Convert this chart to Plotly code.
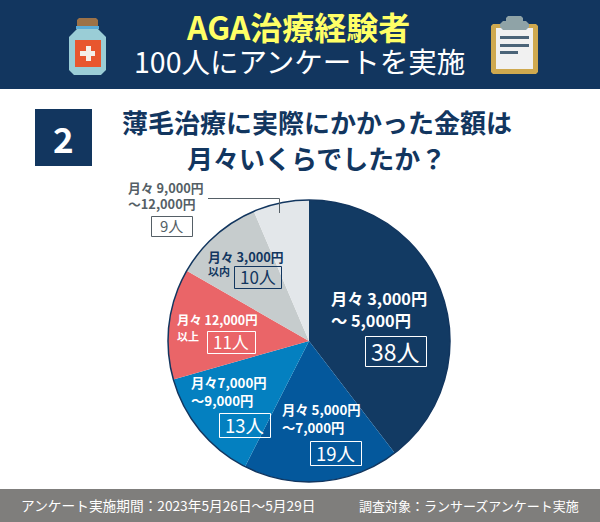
import plotly.graph_objects as go

W, H = 600, 522
categories = ["月々3,000円～5,000円", "月々5,000円～7,000円", "月々7,000円～9,000円",
              "月々12,000円以上", "月々3,000円以内", "月々9,000円～12,000円"]
counts = [38, 19, 13, 11, 10, 9]
# The drawn wedges in the picture are not exactly proportional to the printed counts;
# these are the wedge shares (%).
drawn_shares = [39.6, 17.9, 13.1, 12.7, 10.3, 6.4]
colors = ["#123a63", "#04589c", "#0480c0", "#ea6568", "#c6cccd", "#e3e7ea"]

title_1 = "AGA治療経験者"
title_2 = "100人にアンケートを実施"
question = ["薄毛治療に実際にかかった金額は", "月々いくらでしたか？"]
footer_left = "アンケート実施期間：2023年5月26日～5月29日"
footer_right = "調査対象：ランサーズアンケート実施"

NAVY = "#12365f"
GREY = "#555f66"
CLEAR = "rgba(0,0,0,0)"
FONT = "Noto Sans CJK JP"
cx, cy, r = 309, 341, 141


def px(x):
    return x / W


def py(y):
    return 1 - y / H


def rect(x0, y0, x1, y1, fill, line=None, lw=0, layer="above"):
    return dict(type="rect", xref="paper", yref="paper", x0=px(x0), x1=px(x1), y0=py(y0), y1=py(y1),
                fillcolor=fill, line=dict(color=line or fill, width=lw), layer=layer)


def frame(b, color):
    return rect(b[0] + 0.5, b[1] + 0.5, b[2] + 0.5, b[3] + 0.5, CLEAR, color, 1)


def seg(x0, y0, x1, y1, color, lw=1):
    return dict(type="line", xref="paper", yref="paper", x0=px(x0), x1=px(x1), y0=py(y0), y1=py(y1),
                line=dict(color=color, width=lw), layer="above")


def poly(points, fill):
    path = "M " + " L ".join(f"{px(a):.5f},{py(b):.5f}" for a, b in points) + " Z"
    return dict(type="path", xref="paper", yref="paper", path=path, fillcolor=fill,
                line=dict(width=0), layer="above")


def text(x, y, s, size, color, bold=False, anchor="left"):
    return dict(xref="paper", yref="paper", x=px(x), y=py(y), text=f"<b>{s}</b>" if bold else s,
                showarrow=False, xanchor=anchor, yanchor="middle", align=anchor,
                font=dict(family=FONT, size=size, color=color), borderpad=0)


def box_text(b, s, size, color):
    return text((b[0] + b[2]) / 2, (b[1] + b[3]) / 2 - 0.5, s, size, color, anchor="center")


fig = go.Figure(go.Pie(
    values=drawn_shares, labels=categories, customdata=counts, sort=False,
    direction="clockwise", rotation=0,
    marker=dict(colors=colors, line=dict(width=0)), textinfo="none",
    hovertemplate="%{label}: %{customdata}人<extra></extra>",
    domain=dict(x=[px(cx - r), px(cx + r)], y=[py(cy + r), py(cy - r)]), showlegend=False,
))

box_38 = (365, 336, 426, 366)
box_19 = (310, 441, 361, 465)
box_13 = (219, 413, 270, 437)
box_11 = (207, 331, 255, 353)
box_10 = (234, 266, 281, 288)
box_9 = (151, 216, 192, 236)

shapes = [
    rect(0, 0, 600, 89, NAVY, layer="below"),
    rect(0, 489, 600, 522, "#7f7e7c", layer="below"),
    rect(35, 109, 92, 166, NAVY, layer="below"),
    dict(type="circle", xref="paper", yref="paper", x0=px(cx - r), x1=px(cx + r),
         y0=py(cy + r), y1=py(cy - r), fillcolor=CLEAR, line=dict(color=NAVY, width=1.5), layer="above"),
    # bottle icon
    poly([(79, 18), (96, 18), (98, 20), (98, 28), (77, 28), (77, 20)], "#9c7248"),
    poly([(77, 29), (98, 29), (102, 33), (106, 37), (106, 70), (101, 75), (74, 75), (69, 70), (69, 37), (73, 33)], "#9acdd6"),
    rect(76, 26, 99, 29, "#5aacd8"),
    rect(75, 40, 101, 67, "#e8562e"),
    rect(80, 51, 95, 56, "#f4efe9"),
    rect(86, 46, 91, 61, "#f4efe9"),
    # clipboard icon
    poly([(493, 24), (536, 24), (538, 26), (538, 72), (536, 74), (493, 74), (491, 72), (491, 26)], "#cfa94f"),
    rect(496, 28, 533, 69, "#f1f1f1"),
    poly([(503, 21), (526, 21), (529, 24), (529, 27), (526, 30), (503, 30), (500, 27), (500, 24)], "#8fa3a7"),
    poly([(508, 16), (521, 16), (523, 18), (523, 22), (506, 22), (506, 18)], "#8fa3a7"),
    rect(500, 36, 529, 39, "#4b6478"),
    rect(500, 44, 529, 47, "#4b6478"),
    rect(500, 51, 518, 54, "#4b6478"),
    # callout leader
    seg(208, 198.5, 279.5, 198.5, GREY, 1),
    seg(279.5, 198.5, 279.5, 213, GREY, 1),
    # count boxes
    frame(box_38, "#ffffff"),
    frame(box_19, "#ffffff"),
    frame(box_13, "#ffffff"),
    frame(box_11, "#ffffff"),
    frame(box_10, NAVY),
    frame(box_9, GREY),
]

annotations = [
    text(298, 26, title_1, 32, "#ffff66", True, "center"),
    text(299.5, 61, title_2, 28.5, "#ffffff", False, "center"),
    text(316.5, 122, question[0], 26, NAVY, True, "center"),
    text(316.5, 157, question[1], 26, NAVY, True, "center"),
    text(63, 137, "2", 35, "#ffffff", True, "center"),
    text(330, 298, "月々 3,000円", 16.3, "#ffffff", True),
    text(330, 320, "～ 5,000円", 16.3, "#ffffff", True),
    box_text(box_38, f"{counts[0]}人", 23, "#ffffff"),
    text(281, 409, "月々 5,000円", 13.3, "#ffffff", True),
    text(281, 427, "～7,000円", 13.3, "#ffffff", True),
    box_text(box_19, f"{counts[1]}人", 18.5, "#ffffff"),
    text(190, 382, "月々7,000円", 13.3, "#ffffff", True),
    text(190, 400, "～9,000円", 13.3, "#ffffff", True),
    box_text(box_13, f"{counts[2]}人", 18.5, "#ffffff"),
    text(176, 320, "月々 12,000円", 12.4, "#ffffff", True),
    text(176, 336, "以上", 11, "#ffffff", True),
    box_text(box_11, f"{counts[3]}人", 17, "#ffffff"),
    text(207, 257, "月々 3,000円", 12.8, NAVY, True),
    text(207, 271, "以内", 11, NAVY, True),
    box_text(box_10, f"{counts[4]}人", 17, NAVY),
    text(127, 187, "月々 9,000円", 12.8, GREY, True),
    text(127, 204, "～12,000円", 12.8, GREY, True),
    box_text(box_9, f"{counts[5]}人", 15, GREY),
    text(20, 505, footer_left, 13.7, "#ffffff"),
    text(358, 505, footer_right, 13, "#ffffff"),
]

fig.update_layout(width=W, height=H, margin=dict(l=0, r=0, t=0, b=0), autosize=False,
                  paper_bgcolor="#ffffff", plot_bgcolor="#ffffff",
                  shapes=shapes, annotations=annotations, showlegend=False)
fig.write_html("out.html", config=dict(displayModeBar=False),
               post_script="document.body.style.margin='0';document.documentElement.style.overflow='hidden';")
